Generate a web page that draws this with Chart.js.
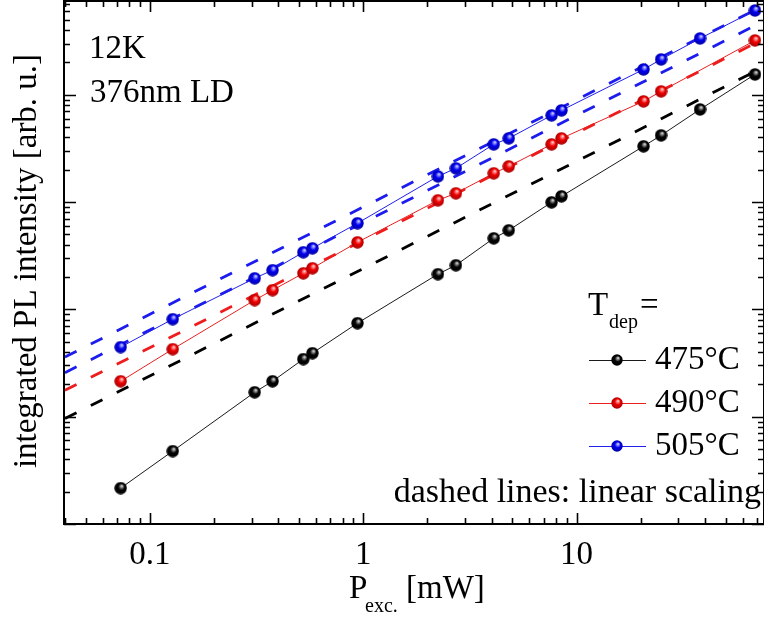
<!DOCTYPE html>
<html>
<head>
<meta charset="utf-8">
<script src="https://cdn.jsdelivr.net/npm/chart.js@4.4.0/dist/chart.umd.min.js"></script>
<style>
  html, body { margin: 0; padding: 0; background: #fff; overflow: hidden; }
  canvas { display: block; background: #fff; }
</style>
</head>
<body>
<canvas id="plChart" width="764" height="636"></canvas>
<script>
// Excitation power [mW]
const power = [0.073, 0.128, 0.31, 0.376, 0.524, 0.578, 0.94, 2.24, 2.72, 4.09, 4.81, 7.64, 8.5, 20.6, 24.9, 37.9, 68.6];
const power490 = [0.073, 0.128, 0.31, 0.376, 0.524, 0.578, 0.94, 2.24, 2.72, 4.09, 4.81, 7.64, 8.5, 20.6, 24.9, 68.6];

// Integrated PL intensity [arb. u.]
const pl475 = [2.16, 4.78, 16.9, 21.4, 34.4, 39.1, 74.4, 213, 258, 460, 546, 996, 1132, 3310, 4190, 7310, 15490];
const pl490 = [21.4, 42.6, 122, 151, 217, 242, 422, 1040, 1208, 1854, 2154, 3452, 3926, 8690, 10760, 32100];
const pl505 = [44.5, 81.1, 195, 232, 341, 371, 635, 1738, 2064, 3452, 3926, 6430, 7160, 17230, 21370, 33500, 61080];

// Dashed "linear scaling" guides, end points
const guideX = [0.04, 75];
const guide475 = [9.6, 18000];
const guide490 = [17.6, 32900];
const guide505a = [36.0, 67400];
const guide505b = [25.7, 48200];

const seriesLabels = ["475°C", "490°C", "505°C"];
const xTickLabels = [0.1, 1, 10];

// Look
const serif = "'Liberation Serif', 'Times New Roman', serif";
const colors = {
  black: { line: "#1a1a1a", dash: "#000000", ball: "#050505", light: "#d8d8d8", dark: "#000000" },
  red:   { line: "#e82020", dash: "#ee1c1c", ball: "#f00000", light: "#ffd0d0", dark: "#a00000" },
  blue:  { line: "#2020e8", dash: "#1c1cee", ball: "#0000f0", light: "#d0d0ff", dark: "#0000a0" }
};

// shaded sphere used as point style
function makeBall(c, d) {
  const cv = document.createElement("canvas");
  cv.width = cv.height = d;
  const g = cv.getContext("2d");
  const r = d / 2;
  const grad = g.createRadialGradient(r + r * 0.2, r - r * 0.35, r * 0.05, r, r, r);
  grad.addColorStop(0, c.light);
  grad.addColorStop(0.45, c.ball);
  grad.addColorStop(1, c.dark);
  g.fillStyle = grad;
  g.beginPath();
  g.arc(r, r, r - 0.3, 0, Math.PI * 2);
  g.fill();
  return cv;
}

const balls = {
  black: makeBall(colors.black, 13),
  red: makeBall(colors.red, 13),
  blue: makeBall(colors.blue, 13)
};
const legendBalls = {
  black: makeBall(colors.black, 12),
  red: makeBall(colors.red, 12),
  blue: makeBall(colors.blue, 12)
};

function pts(xs, ys) {
  return ys.map((y, i) => ({ x: xs[i], y: y }));
}

function dataSeries(xs, ys, c, label) {
  return {
    label: label,
    data: pts(xs, ys),
    borderColor: colors[c].line,
    borderWidth: 1,
    pointStyle: balls[c],
    pointRadius: 6.5,
    fill: false,
    tension: 0
  };
}

function guide(ys, c) {
  return {
    label: "guide",
    data: pts(guideX, ys),
    borderColor: colors[c].dash,
    borderWidth: 2.8,
    borderDash: [13, 16],
    pointRadius: 0,
    fill: false
  };
}

// 1..9 x 10^n tick values inside [min, max]
function logTicks(min, max) {
  const out = [];
  for (let e = Math.floor(Math.log10(min)); e <= Math.ceil(Math.log10(max)); e++) {
    for (let m = 1; m <= 9; m++) {
      const v = m * Math.pow(10, e);
      if (v >= min * 0.999 && v <= max * 1.001) out.push({ v: v, major: m === 1 });
    }
  }
  return out;
}

// fixed scale sizes, no automatic label padding
function fixSize(s, w, h) {
  if (w !== null) s.width = w;
  if (h !== null) s.height = h;
  s.paddingLeft = s.paddingRight = s.paddingTop = s.paddingBottom = 0;
}

// Frame with inward ticks on all four sides
const frameTicks = {
  id: "frameTicks",
  afterDatasetsDraw(chart) {
    const { ctx, chartArea: a, scales } = chart;
    ctx.save();
    ctx.strokeStyle = "#000";
    ctx.lineWidth = 1.6;
    ctx.beginPath();
    logTicks(scales.x.min, scales.x.max).forEach(t => {
      const px = Math.round(scales.x.getPixelForValue(t.v)) + 0.5;
      const len = t.major ? 11 : 6;
      ctx.moveTo(px, a.bottom); ctx.lineTo(px, a.bottom - len);
      ctx.moveTo(px, a.top); ctx.lineTo(px, a.top + len);
    });
    logTicks(scales.y.min, scales.y.max).forEach(t => {
      const py = Math.round(scales.y.getPixelForValue(t.v)) + 0.5;
      const len = t.major ? 12 : 6;
      ctx.moveTo(a.left, py); ctx.lineTo(a.left + len, py);
      ctx.moveTo(a.right, py); ctx.lineTo(a.right - len, py);
    });
    ctx.stroke();
    ctx.lineWidth = 2;
    ctx.strokeRect(a.left, a.top, a.right - a.left, a.bottom - a.top);
    ctx.restore();
  }
};

// Texts, axis titles and the legend
const annotations = {
  id: "annotations",
  afterDraw(chart) {
    const ctx = chart.ctx;
    ctx.save();
    ctx.fillStyle = "#000";
    ctx.textBaseline = "alphabetic";
    ctx.textAlign = "left";

    ctx.font = "33px " + serif;
    ctx.fillText("12K", 89, 58);
    ctx.fillText("376nm LD", 90, 102);

    ctx.font = "34px " + serif;
    ctx.textAlign = "right";
    ctx.fillText("dashed lines: linear scaling", 761, 502);
    ctx.textAlign = "left";

    // x title with subscript
    ctx.font = "33px " + serif;
    ctx.fillText("P", 349, 598);
    ctx.fillText("[mW]", 406, 598);
    ctx.font = "20px " + serif;
    ctx.fillText("exc.", 365, 612);

    // y title
    ctx.save();
    ctx.translate(36, 261);
    ctx.rotate(-Math.PI / 2);
    ctx.textAlign = "center";
    ctx.font = "33px " + serif;
    ctx.fillText("integrated PL intensity [arb. u.]", 0, 0);
    ctx.restore();

    // legend
    ctx.font = "33px " + serif;
    ctx.fillText("T", 588, 315);
    ctx.fillText("=", 640, 315);
    ctx.font = "20px " + serif;
    ctx.fillText("dep", 609, 328);

    ctx.font = "33px " + serif;
    ["black", "red", "blue"].forEach((c, i) => {
      const y = 360 + i * 43;
      ctx.strokeStyle = colors[c].line;
      ctx.lineWidth = 1;
      ctx.beginPath();
      ctx.moveTo(589, y + 0.5);
      ctx.lineTo(646, y + 0.5);
      ctx.stroke();
      const b = legendBalls[c];
      ctx.drawImage(b, 617 - b.width / 2, y - b.height / 2);
      ctx.fillText(seriesLabels[i], 655, y + 9);
    });
    ctx.restore();
  }
};

const ctx = document.getElementById("plChart").getContext("2d");

const chart = new Chart(ctx, {
  type: "line",
  data: {
    datasets: [
      dataSeries(power, pl475, "black", seriesLabels[0]),
      dataSeries(power490, pl490, "red", seriesLabels[1]),
      dataSeries(power, pl505, "blue", seriesLabels[2]),
      guide(guide475, "black"),
      guide(guide490, "red"),
      guide(guide505a, "blue"),
      guide(guide505b, "blue")
    ]
  },
  options: {
    responsive: false,
    animation: false,
    devicePixelRatio: 1,
    // plot frame runs just past the right edge of the picture
    layout: { autoPadding: false, padding: { top: 1, right: -2, left: 0, bottom: 0 } },
    plugins: {
      legend: { display: false },
      tooltip: { enabled: false }
    },
    scales: {
      x: {
        type: "logarithmic",
        min: 0.0396,
        max: 75.6,
        grid: { display: false, drawTicks: false },
        border: { display: false },
        ticks: {
          autoSkip: false,
          maxRotation: 0,
          padding: 12,
          color: "#000",
          font: { family: serif, size: 33 },
          callback: v => xTickLabels.some(t => Math.abs(t - v) < 1e-9) ? String(v) : ""
        },
        afterFit: s => fixSize(s, null, 112)
      },
      y: {
        type: "logarithmic",
        min: 1,
        max: 74800,
        grid: { display: false, drawTicks: false },
        border: { display: false },
        ticks: { display: false },
        afterFit: s => fixSize(s, 64, null)
      }
    }
  },
  plugins: [frameTicks, annotations]
});
</script>
</body>
</html>
